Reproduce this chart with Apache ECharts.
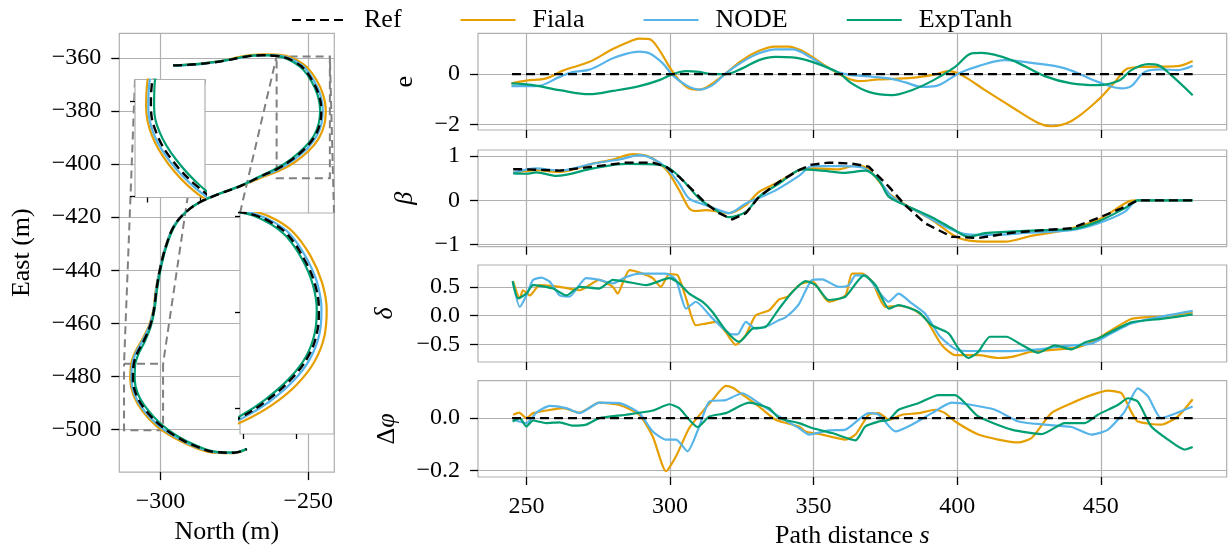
<!DOCTYPE html>
<html><head><meta charset="utf-8">
<script src="https://cdn.jsdelivr.net/npm/echarts@6/dist/echarts.min.js"></script>
<style>html,body{margin:0;padding:0;background:#fff}#c{width:1228px;height:550px}</style>
</head><body><div id="c"></div>
<script>
// ---------------- data ----------------
const seriesNames = ['Ref', 'Fiala', 'NODE', 'ExpTanh'];

// trajectory [North, East]
const trajRef = [[-295.7,-362.8],[-291.0,-362.6],[-286.3,-362.2],[-281.5,-361.6],[-277.6,-360.9],[-273.5,-360.0],[-270.0,-359.3],[-265.2,-359.0],[-261.0,-359.2],[-258.0,-359.8],[-254.5,-361.5],[-251.5,-364.0],[-248.5,-368.8],[-246.4,-374.0],[-245.6,-379.5],[-246.0,-384.5],[-247.8,-389.5],[-251.0,-394.0],[-255.5,-398.3],[-260.5,-401.8],[-266.0,-404.6],[-273.0,-408.3],[-280.5,-411.4],[-286.5,-414.3],[-291.0,-417.7],[-295.2,-423.0],[-298.0,-430.5],[-300.0,-439.0],[-301.3,-447.0],[-302.2,-455.0],[-303.5,-461.0],[-305.7,-466.8],[-308.0,-471.7],[-309.1,-476.1],[-309.3,-481.0],[-308.2,-486.8],[-305.2,-492.5],[-300.5,-498.0],[-294.5,-502.8],[-287.7,-506.5],[-280.9,-508.6],[-275.3,-508.8],[-270.8,-507.4]];
const trajFiala = [[-295.7,-362.8],[-291.0,-362.6],[-286.3,-362.2],[-281.5,-361.5],[-277.6,-360.7],[-273.5,-359.7],[-270.0,-359.0],[-265.2,-358.6],[-261.0,-358.7],[-257.5,-359.2],[-253.8,-360.8],[-250.5,-363.4],[-247.2,-368.3],[-245.0,-373.8],[-244.1,-379.5],[-244.5,-384.8],[-246.4,-390.2],[-249.8,-395.0],[-254.6,-399.3],[-260.0,-402.6],[-265.8,-405.0],[-273.0,-408.4],[-280.5,-411.4],[-286.5,-414.3],[-291.0,-417.7],[-295.3,-423.0],[-298.1,-430.5],[-300.1,-439.0],[-301.5,-447.0],[-302.4,-455.0],[-303.9,-461.0],[-306.4,-466.6],[-308.8,-471.5],[-310.0,-476.1],[-310.2,-481.2],[-309.1,-487.2],[-306.0,-493.2],[-301.2,-498.9],[-295.0,-503.4],[-288.0,-507.0],[-281.0,-508.9],[-275.3,-509.0],[-270.8,-507.5]];
const trajNODE = [[-295.7,-363.0],[-291.0,-362.7],[-286.3,-362.3],[-281.5,-361.6],[-277.6,-360.9],[-273.5,-360.0],[-270.0,-359.3],[-265.2,-358.9],[-261.0,-359.0],[-257.8,-359.6],[-254.2,-361.3],[-251.1,-363.8],[-248.0,-368.7],[-245.9,-374.0],[-245.1,-379.5],[-245.5,-384.6],[-247.3,-389.7],[-250.5,-394.3],[-255.1,-398.6],[-260.2,-402.0],[-265.9,-404.7],[-273.0,-408.3],[-280.6,-411.4],[-286.6,-414.3],[-291.1,-417.7],[-295.3,-423.0],[-298.1,-430.5],[-300.1,-439.0],[-301.4,-447.0],[-302.3,-455.0],[-303.7,-461.0],[-306.1,-466.7],[-308.5,-471.6],[-309.6,-476.1],[-309.8,-481.1],[-308.7,-487.0],[-305.6,-492.8],[-300.8,-498.4],[-294.7,-503.0],[-287.8,-506.7],[-281.0,-508.7],[-275.3,-508.9],[-270.8,-507.4]];
const trajExpTanh = [[-295.7,-362.8],[-291.0,-362.5],[-286.3,-362.1],[-281.5,-361.5],[-277.6,-360.8],[-273.5,-359.9],[-270.0,-359.2],[-265.2,-358.9],[-261.0,-359.2],[-258.2,-359.9],[-254.8,-361.7],[-251.8,-364.3],[-248.8,-369.0],[-246.8,-374.1],[-246.0,-379.5],[-246.4,-384.4],[-248.1,-389.3],[-251.3,-393.8],[-255.8,-398.1],[-260.7,-401.6],[-266.1,-404.5],[-273.0,-408.2],[-280.4,-411.3],[-286.4,-414.2],[-290.9,-417.6],[-295.0,-423.0],[-297.8,-430.5],[-299.8,-439.0],[-301.1,-447.0],[-302.0,-455.0],[-303.2,-461.0],[-305.3,-466.9],[-307.5,-471.8],[-308.6,-476.2],[-308.7,-481.0],[-307.6,-486.6],[-304.6,-492.2],[-300.0,-497.8],[-294.2,-502.6],[-287.5,-506.3],[-280.9,-508.5],[-275.3,-508.7],[-270.8,-507.3]];

// lateral error e vs path distance s
const eRef = [[245,0],[482,0]];
const eFiala = [[244.8,-0.37],[250,-0.26],[256.9,-0.17],[262.7,0.14],[272,0.49],[280.1,1.0],[286,1.3],[289.3,1.42],[292.8,1.40],[296.3,0.96],[299.8,0.29],[303.2,-0.24],[306.7,-0.57],[310.2,-0.62],[314.8,-0.37],[319.4,0.03],[325.2,0.56],[331,0.93],[336.5,1.1],[341.4,1.1],[345,0.98],[349.5,0.69],[353.5,0.38],[357.6,0.09],[361.5,-0.15],[365.7,-0.28],[372.7,-0.21],[384.2,-0.15],[392,-0.02],[397,0.12],[401.6,-0.04],[409.7,-0.64],[419,-1.31],[428.2,-1.95],[432.8,-2.08],[439.8,-1.87],[449,-1.04],[455,-0.3],[459.5,0.23],[465.3,0.29],[476.8,0.32],[482,0.52]];
const eNODE = [[244.8,-0.48],[253.5,-0.48],[261.6,-0.11],[266,0.08],[272,0.18],[280.1,0.63],[285,0.82],[289.3,0.9],[292.8,0.83],[297.5,0.43],[300.9,-0.04],[305.6,-0.44],[310.2,-0.62],[314.8,-0.44],[319.4,0.03],[325.2,0.49],[331,0.83],[336.8,0.99],[342.6,0.99],[349.5,0.63],[355,0.25],[361.1,0.0],[368,-0.08],[376.2,-0.17],[382,-0.33],[387.7,-0.51],[392.4,-0.48],[400.5,0.03],[407.4,0.32],[416.7,0.56],[425.9,0.45],[437.5,0.23],[449,-0.31],[457.2,-0.57],[460.6,-0.48],[465.3,0.09],[471,0.19],[476.8,0.16],[482,0.33]];
const eExpTanh = [[244.8,-0.37],[252.3,-0.44],[261.6,-0.64],[272,-0.8],[280.1,-0.67],[289.3,-0.48],[296.3,-0.24],[300.9,0.0],[305.6,0.12],[310.2,0.09],[314.8,0.0],[319.4,0.0],[325.2,0.23],[331,0.56],[336.8,0.69],[342.6,0.67],[349.5,0.49],[358.8,0.05],[363,-0.35],[369.2,-0.71],[377.3,-0.84],[384.2,-0.64],[391.8,-0.24],[399.3,0.29],[405.1,0.83],[408.5,0.85],[419,0.56],[430.5,-0.08],[439.8,-0.37],[449,-0.44],[456.6,-0.24],[460.6,0.16],[466.5,0.4],[469.9,0.36],[474.5,-0.04],[482,-0.84]];

// beta
const betaRef = [[245.4,0.70],[250,0.70],[261.6,0.67],[273.2,0.76],[284.7,0.85],[294,0.85],[298.6,0.76],[303.2,0.53],[307.9,0.23],[312.5,-0.07],[317.1,-0.29],[321.7,-0.43],[326.4,-0.29],[331,0.08],[338,0.42],[344.9,0.68],[349,0.8],[355.3,0.85],[363.4,0.83],[369.2,0.76],[376.2,0.31],[381.9,-0.11],[388.9,-0.52],[398.1,-0.82],[407.4,-0.85],[419,-0.73],[430.5,-0.67],[439.8,-0.63],[449,-0.40],[457.2,-0.18],[462.9,0],[482,0]];
const betaFiala = [[245.4,0.62],[253.5,0.68],[261.6,0.64],[273.2,0.83],[280.1,0.92],[287,1.04],[292.8,0.98],[298.6,0.70],[303.2,0.23],[306.7,-0.18],[309,-0.24],[312.5,-0.22],[317.1,-0.26],[320.5,-0.29],[326.4,-0.11],[331,0.19],[338,0.42],[344.9,0.68],[350,0.72],[358.8,0.70],[364.6,0.79],[369.2,0.70],[376.2,0.16],[384.2,-0.18],[391.2,-0.44],[400.5,-0.85],[409.7,-0.93],[416.7,-0.93],[425.9,-0.80],[437.5,-0.67],[449,-0.44],[459.5,-0.03],[462.9,0],[482,0]];
const betaNODE = [[245.4,0.62],[253.5,0.72],[261.6,0.67],[273.2,0.83],[282.4,0.92],[289.3,1.02],[294,0.94],[298.6,0.74],[303.2,0.38],[306.7,0.04],[312.5,-0.11],[317.1,-0.22],[320.5,-0.29],[326.4,-0.07],[333.3,0.12],[338,0.27],[344.9,0.55],[349.5,0.77],[358.8,0.77],[367,0.74],[372.7,0.46],[377.3,0.08],[386.5,-0.26],[395.8,-0.59],[402.8,-0.76],[413.2,-0.78],[424.8,-0.73],[439.8,-0.67],[449,-0.52],[458.3,-0.26],[462.9,0],[482,0]];
const betaExpTanh = [[245.4,0.61],[250,0.6],[253.5,0.63],[260.4,0.55],[273.2,0.72],[284.7,0.82],[296.3,0.80],[299.8,0.72],[304.4,0.46],[310.2,0.04],[316,-0.22],[320.5,-0.38],[326.4,-0.26],[331,0.08],[338,0.38],[346.1,0.70],[353,0.67],[361.1,0.62],[368,0.67],[372.7,0.46],[376.2,0.08],[381.9,-0.11],[391.2,-0.38],[398.1,-0.63],[404,-0.82],[409.7,-0.74],[416.7,-0.71],[430.5,-0.67],[439.8,-0.65],[449,-0.48],[458.3,-0.18],[462.9,0],[482,0]];

// delta
const deltaFiala = [[245.4,0.59],[247.7,0.30],[248.8,0.44],[251.2,0.35],[254.6,0.53],[261.6,0.50],[268.5,0.44],[275.4,0.62],[280.1,0.50],[281.8,0.38],[283.5,0.56],[285.9,0.79],[290.5,0.73],[294,0.65],[296.8,0.50],[299.8,0.72],[302.7,0.70],[305.6,0.30],[309,-0.17],[312.5,-0.14],[316,-0.11],[319.4,-0.29],[322.9,-0.51],[326.4,-0.34],[329.8,0.0],[334.5,0.09],[338,0.28],[341,0.33],[344.9,0.53],[349.5,0.60],[355.3,0.24],[361.1,0.35],[363.4,0.73],[367,0.73],[370.4,0.59],[375,0.15],[379.6,0.17],[384.2,0.12],[388.9,-0.05],[394.7,-0.52],[399.3,-0.69],[407.4,-0.69],[414.3,-0.74],[419,-0.72],[425.9,-0.63],[435.2,-0.59],[442.1,-0.55],[449,-0.40],[460.6,-0.06],[471,-0.02],[482,0.06]];
const deltaNODE = [[245.4,0.56],[247.7,0.15],[250,0.35],[252.3,0.62],[255.2,0.66],[258.1,0.59],[261.6,0.35],[265,0.33],[270.8,0.65],[275.4,0.62],[280.1,0.56],[284.7,0.67],[289.3,0.73],[298.6,0.73],[302.1,0.62],[305.6,0.12],[309,0.24],[314.8,-0.05],[320.6,-0.31],[323.5,-0.33],[326.4,-0.11],[329.8,-0.23],[334.5,-0.17],[338,-0.08],[340.3,-0.03],[344.9,0.20],[349.5,0.62],[353,0.63],[358.8,0.50],[362.3,0.53],[364.6,0.70],[368,0.70],[372.7,0.41],[376.2,0.24],[379.6,0.38],[384.2,0.21],[388.9,0.03],[394.1,-0.37],[400.5,-0.61],[409.7,-0.62],[419,-0.62],[428.2,-0.59],[437.5,-0.53],[446.7,-0.49],[453.7,-0.31],[460.6,-0.14],[471,-0.02],[482,0.08]];
const deltaExpTanh = [[245.2,0.60],[247.1,0.30],[250,0.38],[252.3,0.53],[259.3,0.47],[263.9,0.35],[268.5,0.50],[275.4,0.47],[280.1,0.62],[284.7,0.59],[291.7,0.53],[299.8,0.65],[303.2,0.56],[306.7,0.38],[311.3,0.24],[314.8,0.06],[319.4,-0.26],[324.1,-0.46],[328.7,-0.23],[333.3,-0.20],[338,0.12],[342.6,0.41],[347.2,0.60],[350.7,0.53],[355.3,0.27],[361.1,0.33],[367.5,0.70],[371.6,0.53],[376.2,0.12],[379.6,0.18],[386.5,0.06],[391.2,-0.17],[397,-0.31],[400.5,-0.58],[404,-0.74],[407.4,-0.63],[411.4,-0.37],[417.1,-0.37],[422.4,-0.51],[428.2,-0.65],[434,-0.52],[439.8,-0.59],[444.4,-0.47],[449,-0.40],[460.6,-0.12],[471,-0.06],[482,0.02]];

// delta phi
const dphiRef = [[245,0],[482,0]];
const dphiFiala = [[245.4,0.013],[247.5,0.021],[250,0],[252.3,0.019],[256.9,0.029],[262.7,0.038],[268.5,0.021],[275.4,0.059],[282.4,0.050],[289.3,0.013],[294,-0.070],[298.6,-0.203],[302.1,-0.146],[306.7,-0.038],[311.3,0.025],[314.8,0.069],[319.4,0.123],[322,0.115],[325.2,0.09],[331,0.044],[336.8,-0.006],[344.9,-0.032],[347.2,-0.051],[353,-0.063],[361.1,-0.082],[364.6,-0.063],[369.2,0.013],[372.7,0.019],[376.2,-0.006],[380.8,0.013],[386.5,0.019],[392.4,0.032],[395.8,0.019],[399.3,-0.013],[407.4,-0.063],[414.3,-0.082],[421.3,-0.093],[425.9,-0.076],[432.8,0.019],[439.8,0.057],[446.7,0.088],[452.5,0.105],[457.2,0.095],[460.6,0.025],[462.9,-0.013],[471,-0.025],[476.8,0.006],[482,0.072]];
const dphiNODE = [[245.4,-0.006],[250,-0.019],[253.5,0.021],[258.1,0.047],[263.9,0.038],[268.5,0.019],[275.4,0.059],[282.4,0.057],[289.3,0.019],[294,-0.051],[298.6,-0.082],[302.1,-0.082],[306.1,-0.127],[310.2,-0.032],[313.7,0.063],[319.4,0.069],[325.2,0.095],[331,0.057],[338,0.006],[344.9,-0.038],[348.4,-0.063],[355.3,-0.047],[361.1,-0.044],[369.2,0.019],[372.7,0.013],[378.5,-0.051],[384.2,-0.025],[391.2,0.019],[398.1,0.059],[405.1,0.050],[413.2,0.032],[421.3,-0.013],[430.5,-0.025],[439.8,-0.034],[446.7,-0.063],[452.5,-0.044],[458.3,0.025],[462.9,0.114],[466.5,0.082],[471,0],[476.8,0.021],[482,0.044]];
const dphiExpTanh = [[245.2,-0.013],[247.7,0],[250,-0.032],[252.3,-0.009],[256.9,-0.019],[261.6,-0.016],[266.2,-0.029],[270.8,-0.025],[275.4,0],[284.7,0.013],[294,0.029],[299.8,0.053],[303.2,0.038],[306.7,-0.006],[309.6,-0.034],[313.7,0.006],[319.4,0.019],[327.5,0.059],[334.5,0.038],[338,0],[344.9,-0.019],[349.5,-0.038],[356.4,-0.057],[364.6,-0.085],[368,-0.032],[372.7,-0.013],[376.2,-0.006],[379.6,0.032],[386.5,0.057],[393.5,0.088],[399.3,0.088],[402.8,0.057],[407.4,0.006],[419,-0.044],[429.4,-0.061],[437.5,-0.019],[444.4,-0.019],[449,0.013],[455.9,0.050],[459.5,0.076],[462.9,0.063],[467.6,-0.032],[473.4,-0.082],[479.1,-0.120],[482,-0.110]];

// tick values
const northTicks = [-300, -250];
const eastTicks = [-360, -380, -400, -420, -440, -460, -480, -500];
const sTicks = [250, 300, 350, 400, 450];
const eTicks = [-2, 0];
const betaTicks = [-1, 0, 1];
const deltaTicks = [-0.5, 0, 0.5];
const dphiTicks = [-0.2, 0];
const inset1NorthTicks = [-310, -300];
const inset1EastTicks = [-480, -500];
const inset2NorthTicks = [-260, -250];
const inset2EastTicks = [-360, -380, -400];
// zoomed regions
const inset1North = [-312.3, -299.1], inset1East = [-500.3, -475.3];
const inset2North = [-260.7, -242.7], inset2East = [-405.3, -359.4];

// ---------------- chart ----------------
const FONT = "'Liberation Serif', 'Times New Roman', serif";
const GRIDC = '#b0b0b0';
const COL = {Ref: '#000000', Fiala: '#E69F00', NODE: '#56B4E9', ExpTanh: '#009E73'};
function fmt(dec) { return v => (dec ? Number(v).toFixed(dec) : String(Math.round(v))).replace('-', '\u2212'); }

function axis(o) {
  const a = {
    type: 'value', gridIndex: o.grid, min: o.min, max: o.max, z: o.z || 0,
    axisLine: {show: false, onZero: false},
    axisTick: {show: true, customValues: o.ticks, length: o.tickLen || 8, lineStyle: {color: '#000', width: 1.3}},
    axisLabel: {show: o.labels !== false, customValues: o.ticks, formatter: fmt(o.dec || 0),
      fontFamily: FONT, fontSize: 24, color: '#000', margin: o.margin || 18},
    splitLine: {show: o.split !== false, lineStyle: {color: GRIDC, width: 1.2}},
    name: o.name || '', nameLocation: 'middle', nameGap: o.nameGap || 40,
    nameTextStyle: Object.assign({fontFamily: FONT, fontSize: 26, color: '#000'}, o.nameStyle || {})
  };
  if (o.nameRotate != null) a.nameRotate = o.nameRotate;
  return a;
}
const gridBase = {show: true, borderColor: GRIDC, borderWidth: 1.2, containLabel: false};
const grids = [
  Object.assign({left: 119.3, top: 33.3, width: 215, height: 444, z: 0}, gridBase),
  Object.assign({}, gridBase, {left: 135, top: 79.5, width: 70, height: 118, backgroundColor: '#ffffff', z: 3}),
  Object.assign({}, gridBase, {left: 240, top: 213, width: 94, height: 221, backgroundColor: '#ffffff', z: 3}),
  Object.assign({left: 478, top: 33.3, width: 748.7, height: 96.7}, gridBase),
  Object.assign({left: 478, top: 150, width: 748.7, height: 96.7}, gridBase),
  Object.assign({left: 478, top: 265, width: 748.7, height: 97}, gridBase),
  Object.assign({left: 478, top: 380.7, width: 748.7, height: 97}, gridBase)
];
const S_MIN = 233.15, S_MAX = 493.85;
const xAxes = [
  axis({grid: 0, min: -313.9, max: -241.2, ticks: northTicks, name: 'North (m)', nameGap: 44}),
  axis({grid: 1, min: inset1North[0], max: inset1North[1], ticks: inset1NorthTicks, labels: false, split: false, tickLen: 5, z: 3}),
  axis({grid: 2, min: inset2North[0], max: inset2North[1], ticks: inset2NorthTicks, labels: false, split: false, tickLen: 5, z: 3}),
  axis({grid: 3, min: S_MIN, max: S_MAX, ticks: sTicks, labels: false}),
  axis({grid: 4, min: S_MIN, max: S_MAX, ticks: sTicks, labels: false}),
  axis({grid: 5, min: S_MIN, max: S_MAX, ticks: sTicks, labels: false}),
  axis({grid: 6, min: S_MIN, max: S_MAX, ticks: sTicks, name: 'Path distance {i|s}', nameGap: 46,
        nameStyle: {rich: {i: {fontFamily: FONT, fontSize: 26, fontStyle: 'italic', color: '#000'}}}})
];
const yAxes = [
  axis({grid: 0, min: -516.1, max: -350.7, ticks: eastTicks, name: 'East (m)', nameGap: 84, nameRotate: 90}),
  axis({grid: 1, min: inset1East[0], max: inset1East[1], ticks: inset1EastTicks, labels: false, split: false, tickLen: 5, z: 3}),
  axis({grid: 2, min: inset2East[0], max: inset2East[1], ticks: inset2EastTicks, labels: false, split: false, tickLen: 5, z: 3}),
  axis({grid: 3, min: -2.23, max: 1.63, ticks: eTicks, name: 'e', nameGap: 60, nameRotate: 90}),
  axis({grid: 4, min: -1.045, max: 1.135, ticks: betaTicks, name: 'β', nameGap: 60, nameRotate: 90, nameStyle: {fontStyle: 'italic'}}),
  axis({grid: 5, min: -0.81, max: 0.88, ticks: deltaTicks, dec: 1, name: 'δ', nameGap: 80, nameRotate: 90, nameStyle: {fontStyle: 'italic'}}),
  axis({grid: 6, min: -0.225, max: 0.143, ticks: dphiTicks, dec: 1, name: '{n|Δ}{i|φ}', nameGap: 78, nameRotate: 90,
        nameStyle: {rich: {n: {fontFamily: FONT, fontSize: 26, color: '#000'}, i: {fontFamily: FONT, fontSize: 26, fontStyle: 'italic', color: '#000'}}}})
];

function line(name, data, idx, opt) {
  const isRef = name === 'Ref';
  return Object.assign({
    type: 'line', name: name, data: data, xAxisIndex: idx, yAxisIndex: idx,
    symbol: 'none', showSymbol: false, smooth: 0.3, clip: true, silent: true, animation: false,
    lineStyle: {color: COL[name], width: isRef ? 2.4 : 2.2, type: isRef ? [9, 5] : 'solid'},
    itemStyle: {color: COL[name]},
    z: isRef ? 3 : 2
  }, opt || {});
}

const series = [];
const traj = {Ref: trajRef, Fiala: trajFiala, NODE: trajNODE, ExpTanh: trajExpTanh};
// main trajectory + two zoomed insets
[0, 1, 2].forEach(g => {
  ['Ref', 'Fiala', 'NODE', 'ExpTanh'].forEach(n => {
    series.push(line(n, traj[n], g, {z: (n === 'Ref' ? 3 : 2) + (g > 0 ? 4 : 0), smooth: 0.4}));
  });
});
const panels = [
  {g: 3, d: {Fiala: eFiala, NODE: eNODE, ExpTanh: eExpTanh, Ref: eRef}, sm: 0.35},
  {g: 4, d: {Fiala: betaFiala, NODE: betaNODE, ExpTanh: betaExpTanh, Ref: betaRef}, sm: 0.3},
  {g: 5, d: {Fiala: deltaFiala, NODE: deltaNODE, ExpTanh: deltaExpTanh}, sm: 0.2},
  {g: 6, d: {Fiala: dphiFiala, NODE: dphiNODE, ExpTanh: dphiExpTanh, Ref: dphiRef}, sm: 0.2}
];
panels.forEach(p => {
  ['Fiala', 'NODE', 'ExpTanh', 'Ref'].forEach(n => {
    if (p.d[n]) series.push(line(n, p.d[n], p.g, {smooth: n === 'Ref' ? false : p.sm}));
  });
});

const chart = echarts.init(document.getElementById('c'), null, {renderer: 'canvas'});
chart.setOption({
  animation: false,
  backgroundColor: '#ffffff',
  textStyle: {fontFamily: FONT},
  legend: {
    data: seriesNames, left: 286, top: 2, itemWidth: 55, itemHeight: 14, itemGap: 58,
    selectedMode: false,
    itemStyle: {opacity: 0, borderWidth: 0},
    textStyle: {fontFamily: FONT, fontSize: 26, color: '#000', padding: [0, 0, 0, 12]}
  },
  grid: grids,
  xAxis: xAxes,
  yAxis: yAxes,
  series: series
});

// inset markers: rectangle around zoomed region + connectors (loc 2 and 1)
function markInset(gi, nx, ey) {
  const P = p => chart.convertToPixel({xAxisIndex: 0, yAxisIndex: 0}, p);
  const Q = p => chart.convertToPixel({xAxisIndex: gi, yAxisIndex: gi}, p);
  const tl = P([nx[0], ey[1]]), tr = P([nx[1], ey[1]]), br = P([nx[1], ey[0]]), bl = P([nx[0], ey[0]]);
  const itl = Q([nx[0], ey[1]]), itr = Q([nx[1], ey[1]]);
  const st = {stroke: '#808080', lineWidth: 2, lineDash: [8, 5], fill: null};
  return [
    {type: 'polyline', z: 1, silent: true, shape: {points: [tl, tr, br, bl, tl]}, style: st},
    {type: 'polyline', z: 1, silent: true, shape: {points: [itl, tl]}, style: st},
    {type: 'polyline', z: 1, silent: true, shape: {points: [itr, tr]}, style: st}
  ];
}
chart.setOption({graphic: markInset(1, inset1North, inset1East).concat(markInset(2, inset2North, inset2East))});
</script>
</body></html>
